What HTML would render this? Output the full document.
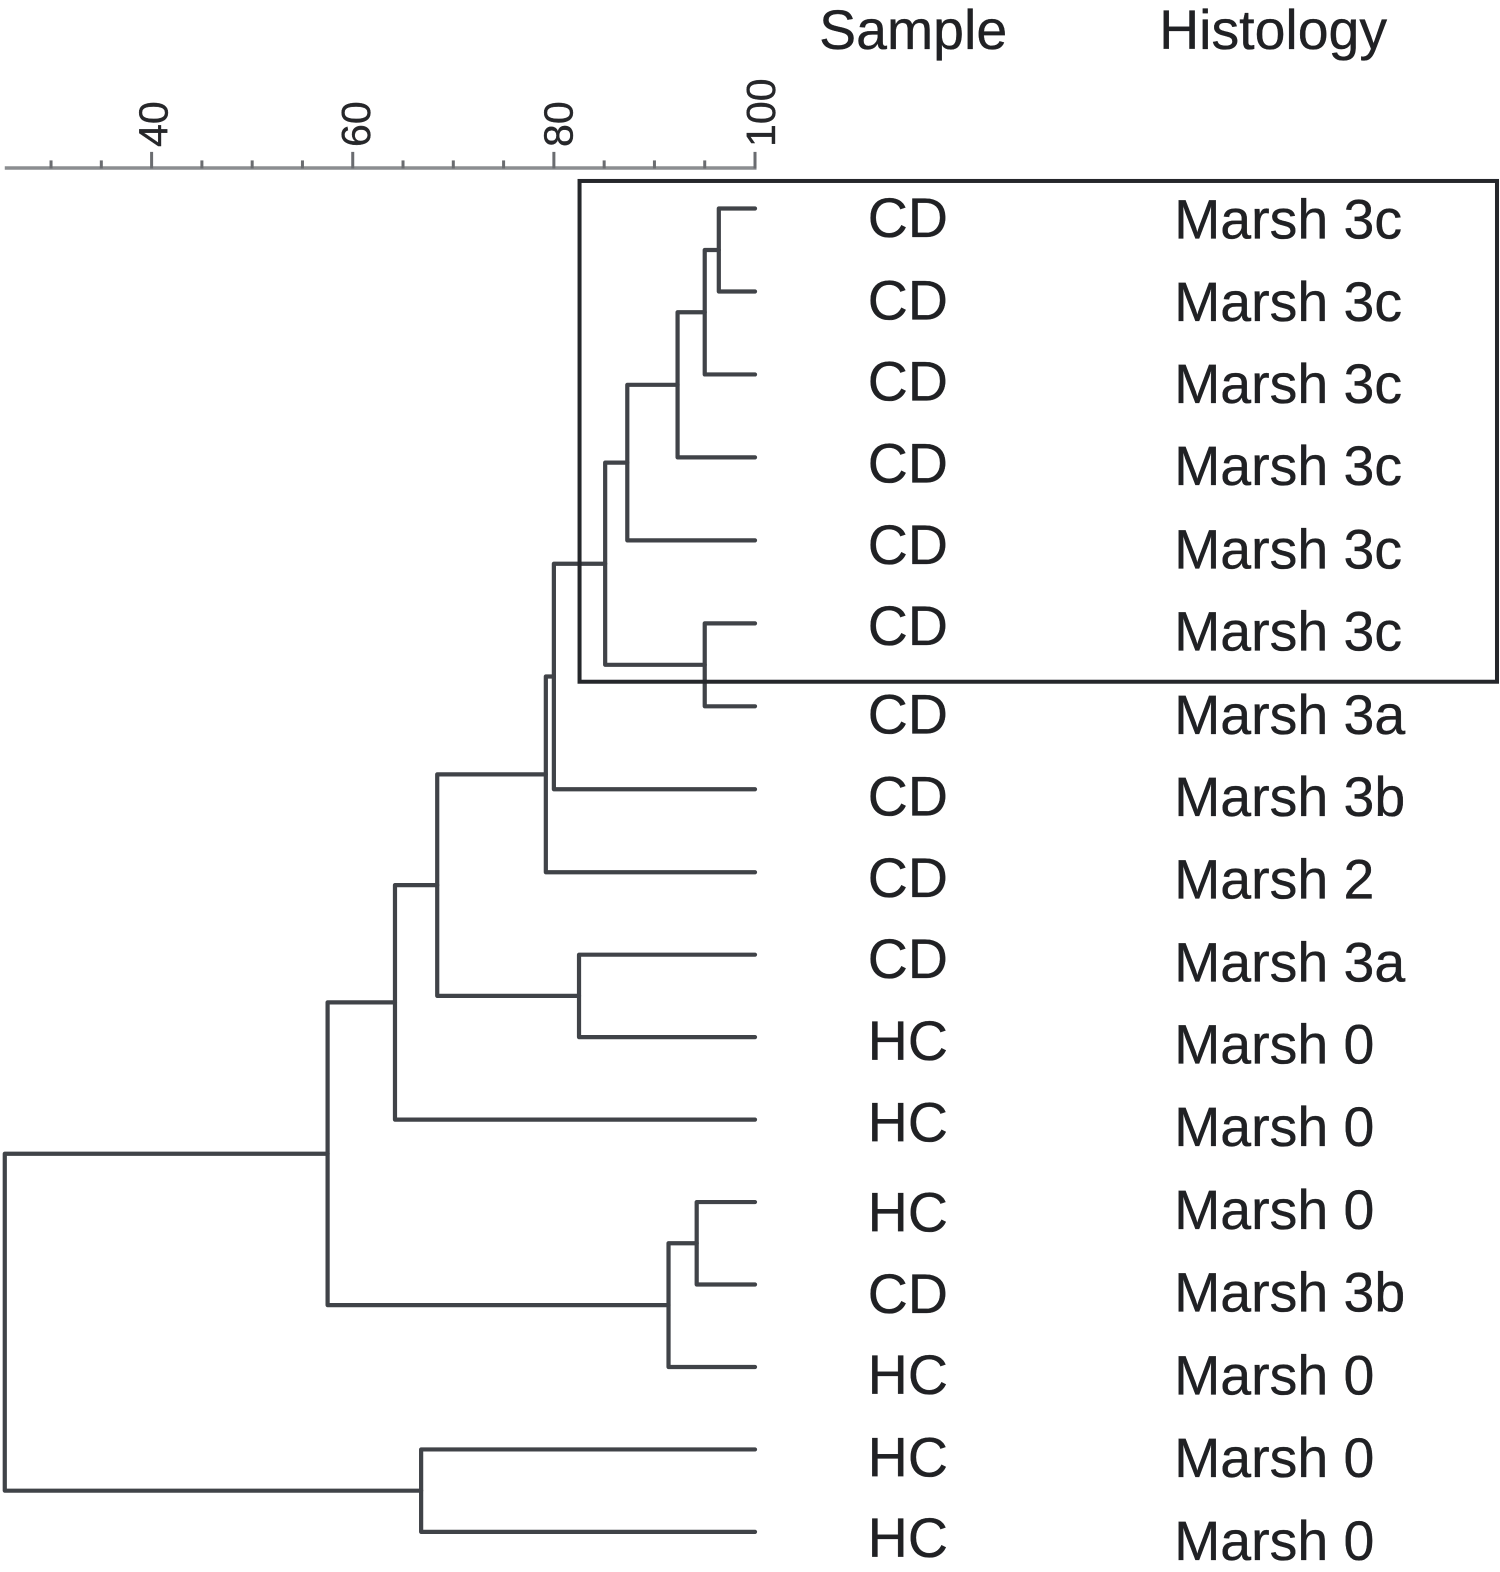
<!DOCTYPE html>
<html lang="en">
<head>
<meta charset="utf-8">
<title>Dendrogram of CD and HC samples</title>
<style>
  html, body { margin: 0; padding: 0; background: #fff; }
  svg { display: block; }
  text { font-family: "Liberation Sans", sans-serif; fill: #202124; stroke: #202124; stroke-width: 0.35px; }
  .lbl { font-size: 55.3px; }
  .tick-label { font-size: 41px; fill: #26272a; stroke: #26272a; }
</style>
</head>
<body>
<svg id="chart" xmlns="http://www.w3.org/2000/svg" width="1500" height="1572" viewBox="0 0 1496 1568" preserveAspectRatio="none">
  <g id="axis"></g>
  <g id="tree"></g>

  <rect x="578" y="180.5" width="915" height="499.5" fill="none" stroke="#25272b" stroke-width="4"/>

  <text class="lbl" x="817" y="49">Sample</text>
  <text class="lbl" x="1156" y="49">Histology</text>

  <g>
    <text class="lbl" x="865.5" y="236.5">CD</text>
    <text class="lbl" x="865.5" y="318.5">CD</text>
    <text class="lbl" x="865.5" y="399.5">CD</text>
    <text class="lbl" x="865.5" y="481.5">CD</text>
    <text class="lbl" x="865.5" y="562.5">CD</text>
    <text class="lbl" x="865.5" y="643.5">CD</text>
    <text class="lbl" x="865.5" y="731.5">CD</text>
    <text class="lbl" x="865.5" y="813.5">CD</text>
    <text class="lbl" x="865.5" y="894.5">CD</text>
    <text class="lbl" x="865.5" y="975.5">CD</text>
    <text class="lbl" x="865.5" y="1057.5">HC</text>
    <text class="lbl" x="865.5" y="1138.5">HC</text>
    <text class="lbl" x="865.5" y="1228.5">HC</text>
    <text class="lbl" x="865.5" y="1309.5">CD</text>
    <text class="lbl" x="865.5" y="1390.5">HC</text>
    <text class="lbl" x="865.5" y="1472.5">HC</text>
    <text class="lbl" x="865.5" y="1553">HC</text>
  </g>

  <g>
    <text class="lbl" x="1171" y="238">Marsh 3c</text>
    <text class="lbl" x="1171" y="320">Marsh 3c</text>
    <text class="lbl" x="1171" y="402">Marsh 3c</text>
    <text class="lbl" x="1171" y="484">Marsh 3c</text>
    <text class="lbl" x="1171" y="567">Marsh 3c</text>
    <text class="lbl" x="1171" y="649">Marsh 3c</text>
    <text class="lbl" x="1171" y="732">Marsh 3a</text>
    <text class="lbl" x="1171" y="814">Marsh 3b</text>
    <text class="lbl" x="1171" y="896">Marsh 2</text>
    <text class="lbl" x="1171" y="979">Marsh 3a</text>
    <text class="lbl" x="1171" y="1061">Marsh 0</text>
    <text class="lbl" x="1171" y="1143">Marsh 0</text>
    <text class="lbl" x="1171" y="1226">Marsh 0</text>
    <text class="lbl" x="1171" y="1308">Marsh 3b</text>
    <text class="lbl" x="1171" y="1391">Marsh 0</text>
    <text class="lbl" x="1171" y="1473">Marsh 0</text>
    <text class="lbl" x="1171" y="1556">Marsh 0</text>
  </g>
</svg>

<script>
// Axis data
const axisTicks = [30, 35, 40, 45, 50, 55, 60, 65, 70, 75, 80, 85, 90, 95, 100];
const axisLabels = [40, 60, 80, 100];
const axisMinimum = 25.4;

// Leaves, top to bottom
const leafNames = ["CD1", "CD2", "CD3", "CD4", "CD5", "CD6", "CD7", "CD8", "CD9", "CD10", "HC1", "HC2", "HC3", "CD11", "HC4", "HC5", "HC6"];

// Merges: a child index below leafNames.length is a leaf; otherwise it is merge (index - leafNames.length)
const mergeFirst = [0, 17, 18, 19, 5, 20, 22, 23, 9, 24, 26, 12, 28, 27, 15, 30];
const mergeSecond = [1, 2, 3, 4, 6, 21, 7, 8, 10, 25, 11, 13, 14, 29, 16, 31];
const mergeSimilarity = [96.4, 95.0, 92.3, 87.3, 95.0, 85.1, 80.0, 79.2, 82.5, 68.4, 64.2, 94.2, 91.4, 57.5, 66.8, 25.4];

const SVG_NS = "http://www.w3.org/2000/svg";
const xScale = v => 753 - (100 - v) * 10.03;
const yScale = i => i <= 8 ? 208 + i * 82.75 : 870 + (i - 8) * 82.25;
const labelBaseline = v => 167 + (v - 40) * 10.1;

const axisGroup = document.getElementById("axis");
const treeGroup = document.getElementById("tree");

// Axis baseline
const axisLine = document.createElementNS(SVG_NS, "line");
axisLine.setAttribute("x1", xScale(axisMinimum));
axisLine.setAttribute("x2", xScale(100) + 1.5);
axisLine.setAttribute("y1", 167.6);
axisLine.setAttribute("y2", 167.6);
axisLine.setAttribute("stroke", "#8b8d90");
axisLine.setAttribute("stroke-width", 3.5);


axisGroup.appendChild(axisLine);

// Ticks
axisTicks.forEach(t => {
  const major = t % 20 === 0;
  const tick = document.createElementNS(SVG_NS, "line");
  tick.setAttribute("x1", xScale(t));
  tick.setAttribute("x2", xScale(t));
  tick.setAttribute("y1", major ? 151.5 : 160);
  tick.setAttribute("y2", 168);
  tick.setAttribute("stroke", "#6a6c70");
  tick.setAttribute("stroke-width", 3);
  
  
  axisGroup.appendChild(tick);
});

// Rotated tick labels
axisLabels.forEach(v => {
  const label = document.createElementNS(SVG_NS, "text");
  label.setAttribute("class", "tick-label");
  label.setAttribute("transform", "translate(" + labelBaseline(v) + " 146.6) rotate(-90)");
  label.textContent = String(v);
  
  
  axisGroup.appendChild(label);
});

// Resolve a child to its plotted position
const mergePositions = [];
function childPosition(index) {
  if (index < leafNames.length) {
    return { x: xScale(100), y: yScale(index) };
  }
  return mergePositions[index - leafNames.length];
}

// Draw each merge as a bracket
mergeSimilarity.forEach((similarity, k) => {
  const a = childPosition(mergeFirst[k]);
  const b = childPosition(mergeSecond[k]);
  const mx = xScale(similarity);
  mergePositions.push({ x: mx, y: (a.y + b.y) / 2 });
  const bracket = document.createElementNS(SVG_NS, "path");
  bracket.setAttribute("d", "M" + a.x + " " + a.y + "H" + mx + "V" + b.y + "H" + b.x);
  bracket.setAttribute("fill", "none");
  bracket.setAttribute("stroke", "#404348");
  bracket.setAttribute("stroke-width", 4.2);
  bracket.setAttribute("stroke-linejoin", "round");
  bracket.setAttribute("stroke-linecap", "round");
  
  
  treeGroup.appendChild(bracket);
});
</script>
</body>
</html>
